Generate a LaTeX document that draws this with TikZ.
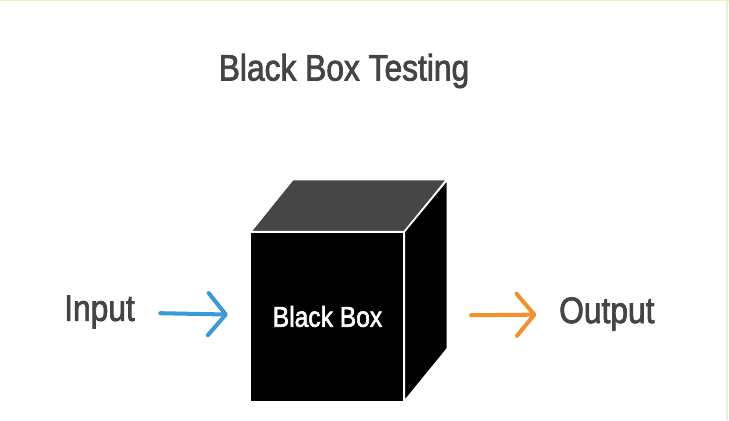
\documentclass[tikz,border=0pt]{standalone}
\usepackage{fontspec}
\setmainfont{Liberation Sans}[FakeStretch=0.86,FakeBold=2]
\usetikzlibrary{arrows.meta,positioning}
\definecolor{txtgray}{HTML}{444444}
\definecolor{topgray}{HTML}{464646}
\definecolor{inblue}{HTML}{3A9AD6}
\definecolor{outorange}{HTML}{F0922E}
\definecolor{edgeyellow}{HTML}{F1EDC4}

\begin{document}
\begin{tikzpicture}[x=0.02cm,y=-0.02cm,
	label/.style={text=txtgray,font=\fontsize{21}{24}\selectfont},
	face/.style={draw=white,line width=0.9pt,line join=round},
	conn/.style={line width=2.3pt,line cap=round,
		-{Straight Barb[length=10pt,width=24pt,line width=2.3pt,round]}}]
	
	\useasboundingbox (0,0) rectangle (729,420);
	\fill[white] (0,0) rectangle (729,420);
	\draw[edgeyellow,line width=1pt] (0,0.5) -- (729,0.5);
	\draw[edgeyellow,line width=0.8pt] (727,0) -- (727,420);
	
	% title
	\node[label] (title) at (344,71) {Black Box Testing};
	
	% cube
	\node[fill=black,minimum width=3.06cm,minimum height=3.38cm,inner sep=0pt,
	text=white,font=\fontsize{16.3}{20}\selectfont] (box) at (327.5,316.5) {Black Box};
	\filldraw[face,fill=topgray] (box.north west) -- ++(42,-52) -- ++(154,0)
	-- (box.north east) -- cycle;
	\filldraw[face,fill=black] (box.north east) -- ++(43,-52) -- ++(0,169)
	-- (box.south east) -- cycle;
	\draw[white,line width=1pt] (box.north west) -- (box.north east) -- (box.south east);
	
	% in / out
	\node[label,anchor=east] (input) at (141,312) {Input};
	\node[label,anchor=west] (output) at (553,314) {Output};
	\draw[conn,inblue,shorten <=11pt,shorten >=13pt] (input) -- (box);
	\draw[conn,outorange,shorten <=38pt,shorten >=9.5pt] (box) -- (output);
	
\end{tikzpicture}
\end{document}
